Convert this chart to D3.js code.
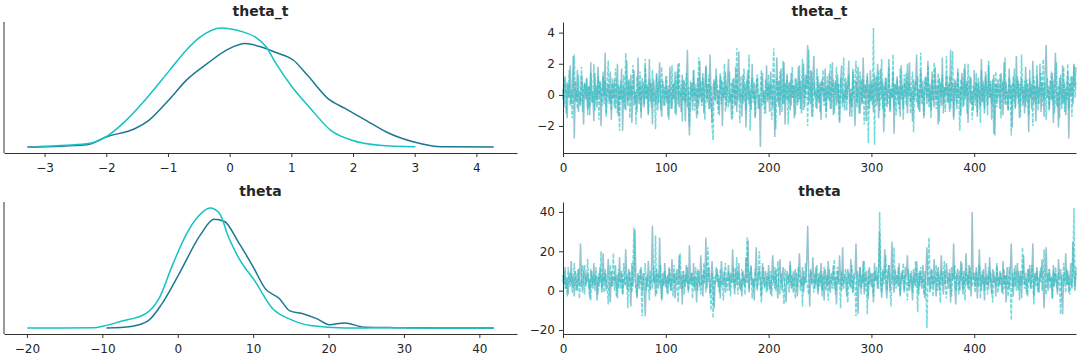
<!DOCTYPE html>
<html>
<head>
<meta charset="utf-8">
<script src="https://cdn.jsdelivr.net/npm/d3@7"></script>
<style>
  body { margin: 0; background: #fff; }
  text { font-family: "DejaVu Sans", sans-serif; fill: #262626; }
  .axis path, .axis line { stroke: #333; }
  .axis text { font-size: 12px; }
  .title { font-size: 14px; font-weight: bold; }
</style>
</head>
<body>
<div id="chart"></div>
<script>
// colours of the two chains
var darkColor = "#1b7893";
var cyanColor = "#12c3c3";

// ---- KDE curves ----
var kdeThetaTDarkX = [-3.28,-2.32,-1.98,-1.54,-1.31,-0.99,-0.70,-0.36,-0.03,0.25,0.53,0.75,1.03,1.26,1.59,1.87,2.21,2.54,2.99,3.44,4.28];
var kdeThetaTDarkY = [0.0,0.009,0.040,0.069,0.101,0.177,0.253,0.316,0.369,0.391,0.377,0.357,0.329,0.272,0.184,0.146,0.101,0.057,0.019,0.001,0.0];
var kdeThetaTCyanX = [-3.10,-2.32,-1.98,-1.70,-1.37,-0.99,-0.70,-0.47,-0.14,0.20,0.42,0.59,0.75,1.01,1.31,1.65,1.98,2.43,3.01];
var kdeThetaTCyanY = [0.002,0.012,0.042,0.096,0.178,0.285,0.367,0.417,0.450,0.436,0.415,0.379,0.316,0.228,0.146,0.061,0.026,0.007,0.001];

var kdeThetaDarkX = [-9.45,-6.2,-3.9,-2.1,0.2,3.0,4.8,6.2,8.0,10.0,11.6,13.5,14.8,16.7,18.5,20.1,22.1,24.9,29.0,35.8,41.9];
var kdeThetaDarkY = [0,0.001,0.0046,0.0151,0.034,0.0582,0.068,0.0666,0.054,0.0382,0.0246,0.0183,0.0109,0.0088,0.0057,0.0021,0.0032,0.0004,0.0002,0.0,0.0];
var kdeThetaCyanX = [-19.95,-11.2,-9.8,-7.5,-4.3,-2.5,-0.7,1.1,2.7,4.3,5.5,6.8,8.0,10.3,12.6,14.8,17.6,22.1,24.9,26.7,30.0,35.0,41.9];
var kdeThetaCyanY = [0,0.0002,0.0013,0.0042,0.0088,0.0183,0.0393,0.0582,0.0697,0.075,0.0718,0.0561,0.0445,0.0288,0.0120,0.0057,0.0015,0.0,0.0,0.0002,0.0001,0.0,0.0];

// ---- trace values (draw 0..499) ----
var thetaTDark = [
0.4,-0.8,1.2,0.3,-1.5,0.7,-0.2,1.9,-0.6,0.1,2.5,-2.8,0.9,-0.4,1.6,-1.1,0.2,-0.7,1.3,0.5,-1.9,0.8,-0.3,1.1,-0.9,
0.6,-1.3,2.1,-0.5,0.2,-1.7,1.4,0.0,-0.8,1.8,-0.1,0.9,-2.0,0.4,1.2,-0.6,2.7,-1.2,0.3,0.7,-0.4,1.5,-1.6,0.8,-0.2,
1.0,-0.9,0.3,2.0,-1.4,0.5,-0.3,1.7,-2.3,0.6,0.1,-1.0,2.2,-0.7,0.9,-0.2,1.3,-1.8,0.4,1.6,-0.5,0.2,-1.1,2.4,-0.6,
0.7,-1.5,1.1,0.0,-0.8,1.9,-0.3,0.5,-1.2,2.3,-0.4,0.8,-1.9,1.0,0.3,-0.6,1.4,-1.0,0.6,2.1,-0.2,-1.4,0.9,0.2,-0.7,
1.2,-0.5,0.4,-1.6,1.8,0.1,-0.9,0.7,-0.3,1.5,-1.3,0.6,2.0,-0.8,0.2,-1.1,1.3,-0.4,0.9,-1.7,0.5,2.9,-0.6,-2.6,0.3,
0.8,-1.0,1.6,-0.2,0.4,-1.5,1.1,-0.7,2.2,0.0,-0.5,1.4,-1.2,0.6,1.9,-0.3,0.7,-0.9,2.6,-0.1,-1.8,0.5,1.0,-0.4,1.7,
-0.6,0.3,-1.3,1.2,0.8,-2.0,0.5,-0.2,1.5,-0.8,0.9,2.3,-0.5,0.1,-1.6,1.0,0.4,-0.7,1.8,-1.1,0.6,2.8,-0.3,0.2,-1.4,
1.3,-0.4,0.7,-2.1,0.9,1.6,-0.6,0.3,-1.0,2.0,-0.2,0.8,-1.5,0.5,1.1,-0.9,0.0,-3.35,0.6,1.4,-0.5,0.2,-1.2,1.9,-0.3,
0.7,-1.1,1.5,0.3,-0.8,1.0,-2.7,0.4,2.4,-0.5,0.9,-1.3,1.7,0.1,-0.6,2.1,-1.9,0.5,1.2,-0.4,0.8,-1.0,1.4,-0.2,0.6,
-1.5,1.1,0.2,-0.7,1.8,-0.3,0.9,-1.2,0.5,2.0,-0.8,1.3,0.4,3.2,-0.6,0.0,1.6,-1.4,0.7,2.5,-0.1,0.3,-0.9,1.2,-0.5,
0.8,-1.6,1.0,0.2,-0.4,1.7,-1.1,0.6,-0.2,1.4,-0.9,0.3,2.1,-1.3,0.5,0.9,-0.7,1.3,-0.1,-1.8,0.7,1.9,-0.5,0.2,-1.0,
1.1,-0.3,0.6,2.2,-1.4,0.4,-0.8,1.5,0.0,-2.0,0.9,-0.5,1.8,0.3,-1.2,1.0,-0.6,2.4,-0.2,0.7,-1.7,1.2,0.1,-0.9,1.6,
-0.4,0.8,-1.1,1.3,0.5,-0.7,2.0,-1.5,0.2,1.7,-0.3,0.9,-2.4,0.6,1.1,-0.8,0.3,2.3,-1.0,0.4,-0.2,1.5,-2.5,0.7,0.0,
1.2,-0.6,0.5,-1.4,1.9,0.2,-0.9,0.8,-0.1,1.4,-1.2,0.6,2.1,-0.5,0.3,-1.7,1.0,-0.3,0.7,2.6,-0.8,0.4,-1.1,1.6,-0.2,
0.9,-1.5,0.3,1.2,-0.6,2.2,-0.4,0.7,-1.0,1.5,0.1,-0.8,1.8,-0.3,0.6,-1.9,1.1,0.4,-0.7,2.4,-1.2,0.5,0.0,1.3,-0.5,
0.7,-1.1,2.9,-0.4,0.8,-1.6,1.0,0.3,-0.9,1.7,-0.2,0.5,-1.3,1.4,0.6,-0.7,2.0,-0.1,0.9,-1.8,0.4,1.2,-0.6,0.2,-1.0,
1.6,-0.3,0.8,-1.4,1.1,0.0,-0.8,2.3,-0.5,0.6,-1.2,1.5,0.3,-0.7,1.9,-0.2,0.9,-1.6,0.4,1.3,-2.6,0.7,-0.4,1.0,0.2,
-0.9,1.4,0.5,-1.3,2.1,-0.6,0.8,0.1,-1.0,1.7,-0.3,0.6,-2.1,1.2,0.4,-0.8,2.5,-0.2,0.9,-1.5,0.3,1.1,-0.7,0.5,-1.2,
1.8,-0.4,0.7,-2.4,1.0,0.2,-0.9,2.2,-0.5,0.6,-1.7,1.3,0.0,-0.6,2.0,-1.1,0.8,0.3,-1.4,1.6,3.2,-0.2,0.5,-1.0,0.9,
-0.3,1.4,-1.8,0.6,2.7,-0.7,0.2,-2.1,1.1,0.4,-0.9,1.9,-0.5,0.8,-1.3,0.3,1.5,-2.8,0.7,-0.1,1.2,-0.6,2.0,0.5,1.8];

var thetaTCyan = [
-0.3,1.1,0.5,-1.2,0.8,-0.1,1.6,-0.7,0.2,-1.5,0.9,2.6,-0.4,0.3,-0.9,1.3,0.0,-0.6,1.8,-1.1,0.4,0.7,-0.2,1.0,-1.3,
0.5,-0.8,1.4,0.1,-0.5,2.0,-1.0,0.6,-0.3,1.2,-1.6,0.8,0.2,-0.7,1.5,-0.1,0.9,-1.4,0.4,2.2,-0.6,0.3,-1.0,1.1,0.0,
-0.8,1.7,0.4,-1.2,0.7,-2.3,0.9,0.1,-0.5,1.3,-0.9,2.7,0.3,-0.4,1.0,-1.5,0.6,-0.1,1.9,-0.7,0.2,-1.9,1.2,0.5,-0.3,
1.5,-1.1,0.3,0.8,-0.6,2.3,-0.2,0.7,-1.3,1.0,0.4,-0.8,1.6,-0.4,0.1,-2.2,1.3,0.6,-0.5,0.9,-1.0,1.8,0.2,-0.7,0.5,
-0.2,1.2,-1.4,0.6,0.0,-0.9,1.9,-0.3,0.8,-1.2,0.4,1.5,-0.6,2.1,-0.1,0.7,-1.7,1.0,0.3,-0.5,1.4,-0.8,0.5,-2.0,0.9,
0.2,-0.4,1.6,-1.0,0.7,0.3,-1.3,2.4,-0.2,0.9,-0.7,1.1,0.0,-1.6,1.8,-0.5,0.4,1.3,-0.9,0.6,-2.0,-2.9,0.8,-0.3,1.2,
0.5,-1.2,0.1,1.4,-0.6,0.9,-0.2,2.0,-1.1,0.6,0.3,-0.8,1.5,-0.4,0.8,-1.5,1.1,0.2,-0.7,3.0,-0.3,0.5,-1.8,1.2,0.0,
-0.6,1.7,0.4,-1.0,0.9,-0.3,2.6,-2.3,0.6,1.1,-0.5,0.2,-1.4,0.8,1.3,-0.1,-0.9,0.5,1.6,-0.7,0.3,-1.2,1.0,0.4,-0.5,
1.3,-0.2,0.7,-1.6,0.9,3.0,-0.4,-2.2,1.1,0.5,-0.8,1.5,0.0,-1.1,2.2,-0.6,0.8,-0.3,1.4,-1.9,0.4,0.9,-0.7,1.8,-0.2,
0.6,-1.3,1.0,0.3,-0.5,1.9,-0.9,0.4,2.3,-1.0,0.7,-0.2,1.2,-2.0,2.9,0.5,-0.6,1.5,-1.4,0.8,0.1,-0.8,1.7,-0.3,0.6,
-1.1,0.9,0.2,1.6,-0.7,0.4,-1.5,1.2,0.0,-0.4,2.0,-0.9,0.6,1.0,-1.2,0.3,1.8,-0.5,0.7,-1.7,1.1,0.2,-0.8,2.4,-0.3,
0.8,-1.0,0.5,1.3,-0.6,0.1,-1.4,1.7,-0.2,0.9,2.2,-0.8,0.4,-1.2,1.5,0.3,-0.5,1.0,-1.9,0.6,0.2,1.4,-3.1,0.7,-0.4,
0.9,-0.7,4.3,-3.2,0.5,1.2,-0.4,1.6,-1.0,0.3,2.3,-0.9,0.6,-1.5,1.1,0.0,-0.6,1.8,-1.1,0.4,-0.2,2.6,-0.8,0.7,-1.3,
1.0,0.2,-0.9,1.7,-0.3,0.6,-1.6,1.3,0.4,-0.7,2.0,-0.1,0.8,-1.2,0.5,1.5,-2.4,0.3,0.9,-0.5,1.2,-1.0,0.1,2.7,-0.6,
0.4,-1.3,1.1,0.7,-0.2,1.9,-0.8,0.3,-1.5,1.0,-0.4,2.1,0.6,-0.9,0.2,1.4,-1.7,0.8,-0.1,1.3,-0.6,0.5,-1.1,2.5,0.0,
-0.5,1.2,-0.9,0.6,2.8,-1.4,0.3,0.9,-0.6,1.5,-0.2,-2.3,1.0,0.4,-0.8,1.7,-0.3,0.7,-1.2,2.0,0.1,-0.5,1.1,-1.6,0.6,
0.3,-0.7,1.4,-1.1,0.8,0.2,-1.8,1.6,-0.4,0.9,-0.9,1.2,0.5,-1.3,2.2,-0.2,0.7,-0.6,1.0,-2.5,0.4,1.5,-0.8,0.6,-0.1,
1.3,-1.5,0.5,0.9,-0.3,2.4,-0.7,0.2,-1.0,1.1,0.6,-2.6,0.8,-0.4,1.7,-0.9,0.3,1.2,-0.6,0.7,-1.4,2.6,0.1,-0.5,0.9,
-0.8,1.0,0.4,-1.3,1.6,-0.2,0.7,-2.0,1.2,0.3,-0.6,1.9,-1.0,0.5,0.0,1.4,-0.7,2.3,-0.3,0.8,-1.6,1.1,0.2,-0.9,0.6,
1.5,-0.4,0.9,-1.2,0.3,2.1,-0.8,0.6,-1.5,1.3,0.0,-0.6,1.8,-1.1,0.4,-0.3,2.0,-0.9,0.7,1.2,-1.4,0.5,1.9,-0.2,0.8];

var thetaDark = [
8,3,12,1,6,-2,9,4,15,2,7,-3,10,5,0,11,3,24,6,-1,8,13,2,5,9,
4,-4,11,6,1,14,3,8,-5,7,2,12,5,-1,19,4,9,0,6,16,3,-6,10,2,7,
5,13,-3,8,1,17,4,10,-2,6,3,21,7,0,11,5,-8,14,2,9,31,4,-4,8,1,
6,12,-1,9,3,-13,7,2,15,5,0,10,33,4,8,-3,11,6,1,27,5,-5,9,3,14,
2,7,-2,12,5,0,16,4,9,-4,6,11,3,18,1,8,-7,10,5,2,13,6,-1,23,4,
9,3,14,0,7,-6,11,5,2,18,6,-3,10,4,27,1,8,12,-2,6,15,3,-9,5,7,
11,2,6,-4,15,8,3,10,-1,7,5,13,0,9,4,21,6,-2,11,3,8,14,1,5,-3,
10,6,2,17,4,26,-1,8,12,3,6,-5,9,22,1,7,11,4,-3,14,6,2,10,5,0,
13,4,-2,8,18,6,1,11,3,-4,9,16,5,0,12,6,2,-6,10,7,4,15,1,8,-1,
6,11,3,-3,9,19,5,2,12,-1,7,4,14,33,8,-8,10,3,17,6,1,12,5,-2,9,
4,14,0,8,-5,11,6,2,15,3,-1,9,5,13,1,7,-7,10,4,18,6,0,22,3,8,
5,-3,11,7,2,16,4,-1,9,6,24,3,-12,8,12,1,5,15,-2,7,10,4,-4,12,6,
2,9,-6,14,5,8,1,12,30,4,-2,10,6,21,3,-4,9,13,0,7,25,5,-1,11,4,
8,2,14,-3,6,10,4,-1,12,7,18,3,0,9,5,-5,11,6,2,15,4,-2,10,7,1,
13,5,-4,9,22,3,7,-1,11,6,2,16,4,-3,8,12,0,6,18,5,-2,10,3,14,7,
1,9,-6,12,5,24,3,-7,8,11,4,0,15,6,-2,10,3,19,7,1,13,5,-3,40,6,
9,2,12,-4,7,21,4,0,10,6,-5,14,3,8,1,17,5,-2,11,4,7,-3,13,6,2,
10,5,-1,15,3,8,-6,12,4,1,9,24,6,-3,11,2,7,14,0,5,10,-4,8,18,3,
6,-2,11,4,13,1,7,24,-3,9,5,12,2,-1,10,6,16,3,-9,8,22,4,0,11,5,
7,-4,13,2,9,5,-2,16,6,11,1,-12,8,4,19,3,10,-1,6,14,2,25,7,0,12];

var thetaCyan = [
4,10,1,7,-3,12,5,2,9,-1,6,14,3,0,8,11,-4,5,2,13,7,-2,9,4,16,
1,6,-5,10,3,8,0,12,5,-2,9,4,20,1,7,-1,11,5,3,-7,8,13,2,6,19,
0,7,3,-4,11,5,1,9,-2,14,6,2,8,-9,5,10,3,-1,12,32,6,1,-3,9,4,
11,2,-13,7,5,14,0,8,3,-5,10,6,1,12,4,28,-2,7,9,3,13,-4,6,2,10,
5,-1,8,3,11,0,6,-3,13,4,9,2,-6,7,19,5,1,10,-2,8,4,12,0,6,3,
9,-4,7,2,12,5,0,10,4,-2,8,3,14,6,-1,11,22,5,2,-10,9,-14,7,3,12,
4,8,-1,11,2,6,-5,9,14,3,0,10,5,-3,8,4,12,1,7,17,-2,9,5,0,11,
3,7,-2,10,27,4,1,8,13,-4,6,2,11,5,0,9,20,3,-6,7,12,1,5,-1,9,
6,1,10,-3,8,4,12,0,7,15,3,-2,9,5,1,-7,11,6,3,8,-1,13,4,2,10,
5,-4,9,2,12,7,0,6,-8,10,3,14,5,1,-2,8,11,4,6,-1,9,3,13,0,7,
2,10,-3,6,12,4,0,8,-5,11,3,7,1,9,16,-2,5,12,3,6,-9,10,4,1,8,
11,3,-6,9,5,1,13,-1,7,4,-13,10,6,2,12,-2,8,4,15,0,7,-12,11,3,6,
9,2,-3,10,5,12,4,1,40,7,-4,11,3,8,18,0,6,13,2,-8,9,5,22,4,1,
7,12,3,-2,9,5,14,0,8,4,-5,11,2,6,10,-1,7,3,15,5,-11,9,2,12,4,
6,-2,10,3,-19,8,27,5,1,11,-3,7,4,13,0,9,6,-6,10,3,8,15,1,-4,7,
5,11,2,-3,9,6,13,0,8,4,-2,10,5,14,1,7,-5,11,3,8,0,12,6,2,9,
4,-1,10,6,2,13,-4,8,3,11,0,7,5,-2,12,4,9,1,-6,10,6,2,14,-1,7,
3,9,5,-2,11,1,8,4,-3,12,6,-15,9,2,7,13,0,5,10,-5,8,3,22,6,1,
9,4,-3,11,6,1,13,5,-7,8,2,10,-1,7,4,12,0,6,21,3,-2,9,5,11,1,
7,-4,10,3,12,6,0,9,4,-12,8,2,14,5,-1,11,3,8,-2,6,1,13,42,2,9];

// ---- tick labels ----
var thetaTKdeTicks = [-3,-2,-1,0,1,2,3,4];
var thetaKdeTicks = [-20,-10,0,10,20,30,40];
var drawTicks = [0,100,200,300,400];
var thetaTTraceTicks = [-2,0,2,4];
var thetaTraceTicks = [-20,0,20,40];

var width = 1080, height = 360;
var svg = d3.select("#chart").append("svg")
  .attr("width", width).attr("height", height);

var leftX = [4, 517], rightX = [563, 1076];
var rows = [[22, 153], [202, 334]];

var panels = [
  { title: "theta_t",
    kde: [[kdeThetaTDarkX, kdeThetaTDarkY, darkColor], [kdeThetaTCyanX, kdeThetaTCyanY, cyanColor]],
    kdeTicks: thetaTKdeTicks,
    trace: [[thetaTDark, darkColor], [thetaTCyan, cyanColor]],
    traceTicks: thetaTTraceTicks },
  { title: "theta",
    kde: [[kdeThetaDarkX, kdeThetaDarkY, darkColor], [kdeThetaCyanX, kdeThetaCyanY, cyanColor]],
    kdeTicks: thetaKdeTicks,
    trace: [[thetaDark, darkColor], [thetaCyan, cyanColor]],
    traceTicks: thetaTraceTicks }
];

// matplotlib style 5% margins
function padded(lo, hi) {
  var m = (hi - lo) * 0.05;
  return [lo - m, hi + m];
}

var minus = function(d) { return String(d).replace("-", "\u2212"); };

panels.forEach(function(p, i) {
  var r = rows[i];

  // ---- left: KDE ----
  var allX = [], allY = [];
  p.kde.forEach(function(k) { allX = allX.concat(k[0]); allY = allY.concat(k[1]); });
  var xk = d3.scaleLinear().domain(padded(d3.min(allX), d3.max(allX))).range(leftX);
  var yk = d3.scaleLinear().domain(padded(0, d3.max(allY))).range([r[1], r[0]]);

  var gl = svg.append("g");
  p.kde.forEach(function(k) {
    var pts = k[0].map(function(x, j) { return [x, k[1][j]]; });
    gl.append("path")
      .datum(pts)
      .attr("fill", "none")
      .attr("stroke", k[2])
      .attr("stroke-width", 1.5)
      .attr("d", d3.line().x(d => xk(d[0])).y(d => yk(d[1])).curve(d3.curveMonotoneX));
  });

  gl.append("g").attr("class", "axis")
    .attr("transform", "translate(0," + r[1] + ")")
    .call(d3.axisBottom(xk).tickValues(p.kdeTicks).tickFormat(minus).tickSize(4).tickPadding(6).tickSizeOuter(0));
  gl.append("line").attr("x1", leftX[0]).attr("x2", leftX[0]).attr("y1", r[0]).attr("y2", r[1])
    .attr("stroke", "#333");
  gl.append("text").attr("class", "title")
    .attr("x", (leftX[0] + leftX[1]) / 2).attr("y", r[0] - 6.5)
    .attr("text-anchor", "middle").text(p.title);

  // ---- right: trace ----
  var vals = p.trace[0][0].concat(p.trace[1][0]);
  var xt = d3.scaleLinear().domain([0, 499]).range(rightX);
  var yt = d3.scaleLinear().domain(padded(d3.min(vals), d3.max(vals))).range([r[1], r[0]]);

  var gr = svg.append("g");
  p.trace.forEach(function(t, j) {
    gr.append("path")
      .datum(t[0])
      .attr("fill", "none")
      .attr("stroke", t[1])
      .attr("stroke-opacity", j == 0 ? 0.45 : 0.6)
      .attr("stroke-width", 1.5)
      .attr("stroke-dasharray", j == 0 ? null : "4,1.5")
      .attr("d", d3.line().x((d, n) => xt(n)).y(d => yt(d)));
  });

  gr.append("g").attr("class", "axis")
    .attr("transform", "translate(0," + r[1] + ")")
    .call(d3.axisBottom(xt).tickValues(drawTicks).tickSize(4).tickPadding(6).tickSizeOuter(0));
  gr.append("g").attr("class", "axis")
    .attr("transform", "translate(" + rightX[0] + ",0)")
    .call(d3.axisLeft(yt).tickValues(p.traceTicks).tickFormat(minus).tickSize(4).tickPadding(4).tickSizeOuter(0));
  gr.append("text").attr("class", "title")
    .attr("x", (rightX[0] + rightX[1]) / 2).attr("y", r[0] - 6.5)
    .attr("text-anchor", "middle").text(p.title);
});

svg.selectAll(".axis path").attr("stroke", "#333");
svg.selectAll(".axis text").attr("fill", "#262626");
</script>
</body>
</html>
